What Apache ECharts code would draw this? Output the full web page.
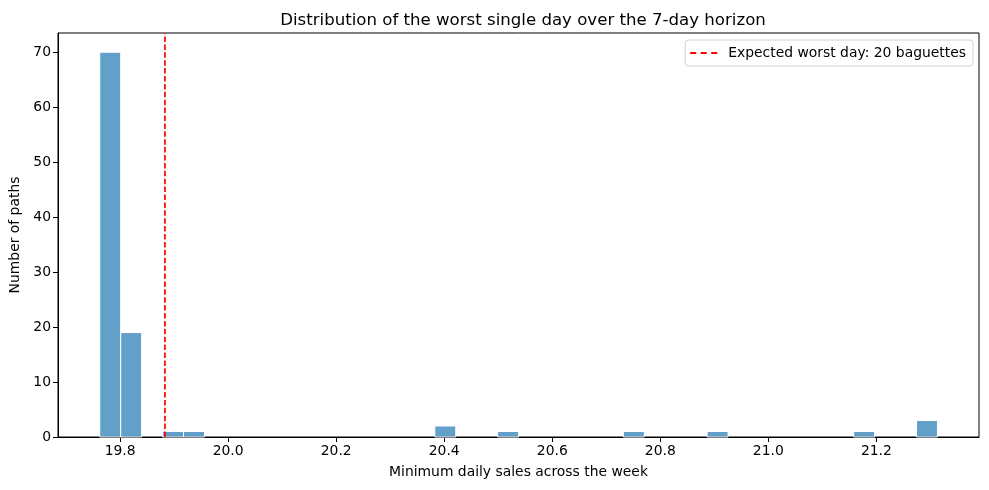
<!DOCTYPE html>
<html>
<head>
<meta charset="utf-8">
<script src="https://cdn.jsdelivr.net/npm/echarts@6/dist/echarts.min.js"></script>
<style>
  html, body { margin: 0; padding: 0; background: #fff; }
  #chart { width: 989px; height: 490px; }
</style>
</head>
<body>
<div id="chart"></div>
<script>
// histogram: 40 equal bins
const binStart = 19.7623;
const binWidth = 0.03877;
const counts = [70, 19, 0, 1, 1, 0, 0, 0, 0, 0,
                0, 0, 0, 0, 0, 0, 2, 0, 0, 1,
                0, 0, 0, 0, 0, 1, 0, 0, 0, 1,
                0, 0, 0, 0, 0, 0, 1, 0, 0, 3];
const expectedWorst = 19.883;
const xTicks = [19.8, 20.0, 20.2, 20.4, 20.6, 20.8, 21.0, 21.2];
const yTicks = [0, 10, 20, 30, 40, 50, 60, 70];

const font = 'DejaVu Sans';

const bins = counts.map(function (c, i) {
  return [binStart + i * binWidth, binStart + (i + 1) * binWidth, c];
});

const chart = echarts.init(document.getElementById('chart'));

const option = {
  backgroundColor: '#ffffff',
  animation: false,
  textStyle: { fontFamily: font },
  title: {
    text: 'Distribution of the worst single day over the 7-day horizon',
    left: 518,
    textAlign: 'center',
    top: 7,
    textStyle: { fontFamily: font, fontSize: 16.6, fontWeight: 'normal', color: '#000' }
  },
  legend: {
    right: 16,
    top: 40,
    orient: 'vertical',
    backgroundColor: '#fff',
    borderColor: '#d0d0d0',
    borderWidth: 1,
    borderRadius: 3,
    padding: [6, 7, 6, 5],
    itemWidth: 27,
    itemHeight: 2,
    itemGap: 5,
    // three red dashes, like the matplotlib legend handle
    icon: 'path://M0,0h6v2H0z M10.5,0h6v2h-6z M21,0h6v2h-6z',
    textStyle: { fontFamily: font, fontSize: 13.9, color: '#000', padding: [0, 0, 0, 6] },
    data: ['Expected worst day: 20 baguettes']
  },
  grid: {
    left: 57,
    right: 10,
    top: 33,
    bottom: 53,
    show: true,
    borderColor: '#000',
    borderWidth: 1,
    backgroundColor: 'transparent'
  },
  xAxis: {
    type: 'value',
    min: 19.685,
    max: 21.39,
    name: 'Minimum daily sales across the week',
    nameLocation: 'middle',
    nameGap: 28,
    nameTextStyle: { fontFamily: font, fontSize: 13.9, color: '#000' },
    splitLine: { show: false },
    axisLine: { show: true, lineStyle: { color: '#000', width: 1 } },
    axisTick: { show: true, length: 5, lineStyle: { color: '#000' }, customValues: xTicks },
    axisLabel: {
      fontFamily: font, fontSize: 13.9, color: '#000', margin: 7,
      customValues: xTicks,
      formatter: function (v) { return v.toFixed(1); }
    }
  },
  yAxis: {
    type: 'value',
    min: 0,
    max: 73.5,
    name: 'Number of paths',
    nameLocation: 'middle',
    nameGap: 36,
    nameTextStyle: { fontFamily: font, fontSize: 13.9, color: '#000' },
    splitLine: { show: false },
    axisLine: { show: true, lineStyle: { color: '#000', width: 1 } },
    axisTick: { show: true, length: 5, lineStyle: { color: '#000' }, customValues: yTicks },
    axisLabel: { fontFamily: font, fontSize: 13.9, color: '#000', margin: 7, customValues: yTicks }
  },
  series: [
    {
      type: 'custom',
      name: 'hist',
      renderItem: function (params, api) {
        const c = api.value(2);
        if (!c) return;
        const p0 = api.coord([api.value(0), 0]);
        const p1 = api.coord([api.value(1), c]);
        return {
          type: 'rect',
          shape: { x: p0[0], y: p1[1], width: p1[0] - p0[0], height: p0[1] - p1[1] },
          style: { fill: 'rgba(31,119,180,0.7)', stroke: '#ffffff', lineWidth: 1 }
        };
      },
      encode: { x: [0, 1], y: 2 },
      data: bins,
      z: 2
    },
    {
      type: 'line',
      name: 'Expected worst day: 20 baguettes',
      data: [[expectedWorst, 0], [expectedWorst, 73.5]],
      symbol: 'none',
      lineStyle: { color: '#ff0000', width: 1.7, type: [5.5, 2.4] },
      itemStyle: { color: '#ff0000' },
      z: 3
    }
  ]
};

chart.setOption(option);
</script>
</body>
</html>
